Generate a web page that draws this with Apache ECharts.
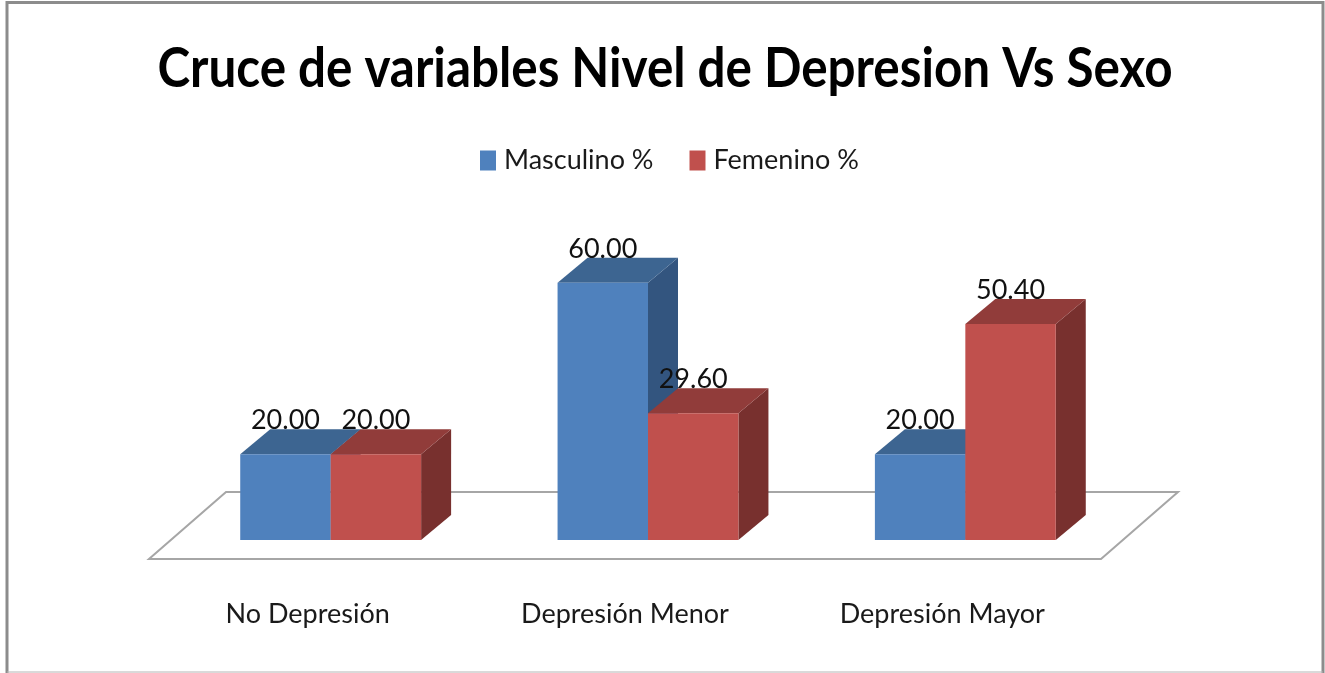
<!DOCTYPE html>
<html>
<head>
<meta charset="utf-8">
<title>Cruce de variables</title>
<script src="https://cdn.jsdelivr.net/npm/echarts@6/dist/echarts.min.js"></script>
<style>
html, body { margin: 0; padding: 0; background: #fff; }
#main { width: 1325px; height: 673px; }
</style>
</head>
<body>
<div id="main"></div>
<script>
var titulo = 'Cruce de variables Nivel de Depresion Vs Sexo';
var categorias = ['No Depresión', 'Depresión Menor', 'Depresión Mayor'];
var masculino = [20, 60, 20];
var femenino = [20, 29.6, 50.4];

var FUENTE = 'Lato';
var PROF = [30, -25];     // depth of each 3d bar
var PISO = [77, -67];     // depth of the floor
var DESP = [23, -19];     // bars stand this far back on the floor
var ANCHO = 0.285;        // bar width, share of the category band

function barra3d(lado, frente, arriba, costado) {
    return function (params, api) {
        var valor = api.value(1);
        var base = api.coord([api.value(0), 0]);
        var tope = api.coord([api.value(0), valor]);
        var w = api.size([1, 0])[0] * ANCHO;
        var x0 = base[0] + DESP[0] + (lado < 0 ? -w : 0);
        var x1 = x0 + w;
        var y0 = base[1] + DESP[1];
        var y1 = tope[1] + DESP[1];
        var dx = PROF[0], dy = PROF[1];
        return {
            type: 'group',
            children: [
                { type: 'polygon', shape: { points: [[x1, y0], [x1 + dx, y0 + dy], [x1 + dx, y1 + dy], [x1, y1]] }, style: { fill: costado } },
                { type: 'polygon', shape: { points: [[x0, y1], [x1, y1], [x1 + dx, y1 + dy], [x0 + dx, y1 + dy]] }, style: { fill: arriba } },
                { type: 'rect', shape: { x: x0, y: y1, width: w, height: y0 - y1 }, style: { fill: frente } },
                {
                    type: 'text',
                    z2: 50,
                    x: (x0 + x1) / 2,
                    y: y1 - 34,
                    style: {
                        text: valor.toFixed(2),
                        fill: '#111',
                        font: '27px ' + FUENTE,
                        align: 'center',
                        verticalAlign: 'middle'
                    }
                }
            ]
        };
    };
}

var myChart = echarts.init(document.getElementById('main'));

var option = {
    animation: false,
    backgroundColor: '#fff',
    legend: {
        data: ['Masculino %', 'Femenino %'],
        left: 475,
        top: 142,
        icon: 'rect',
        itemWidth: 16,
        itemHeight: 20,
        itemGap: 36,
        selectedMode: false,
        textStyle: { fontFamily: FUENTE, fontSize: 27, color: '#1a1a1a', padding: [0, 0, 0, 3] }
    },
    graphic: [
        { type: 'polyline', silent: true, shape: { points: [[7, 673], [7, 2.5], [1323, 2.5], [1323, 673]] }, style: { fill: null, stroke: '#8c8c8c', lineWidth: 3 } },
        { type: 'line', silent: true, shape: { x1: 7, y1: 672, x2: 1323, y2: 672 }, style: { stroke: '#b4b4b4', lineWidth: 1 } },
        {
            // the original title is a condensed face, so squeeze it sideways
            type: 'text',
            silent: true,
            x: 665,
            y: 69,
            scaleX: 0.898,
            style: {
                text: titulo,
                font: 'bold 55px ' + FUENTE,
                fill: '#000',
                align: 'center',
                verticalAlign: 'middle'
            }
        }
    ],
    grid: { left: 149, right: 224, top: 259, bottom: 114 },
    xAxis: {
        type: 'category',
        data: categorias,
        axisLine: { show: false },
        axisTick: { show: false },
        axisLabel: { margin: 42, fontFamily: FUENTE, fontSize: 27, color: '#1a1a1a' }
    },
    yAxis: { type: 'value', min: 0, max: 70, show: false },
    series: [
        {
            name: 'Piso',
            type: 'custom',
            silent: true,
            data: [[0, 0]],
            renderItem: function (params, api) {
                var r = params.coordSys;
                var yb = api.coord([0, 0])[1];
                return {
                    type: 'polygon',
                    shape: { points: [[r.x, yb], [r.x + r.width, yb], [r.x + r.width + PISO[0], yb + PISO[1]], [r.x + PISO[0], yb + PISO[1]]] },
                    style: { fill: '#fff', stroke: '#a6a6a6', lineWidth: 2 }
                };
            }
        },
        {
            name: 'Masculino %',
            type: 'custom',
            itemStyle: { color: '#4f81bd' },
            encode: { x: 0, y: 1 },
            data: masculino.map(function (v, i) { return [i, v]; }),
            renderItem: barra3d(-1, '#4f81bd', '#3d6591', '#33557f')
        },
        {
            name: 'Femenino %',
            type: 'custom',
            itemStyle: { color: '#c0504d' },
            encode: { x: 0, y: 1 },
            data: femenino.map(function (v, i) { return [i, v]; }),
            renderItem: barra3d(1, '#c0504d', '#913c3a', '#78302e')
        }
    ]
};

myChart.setOption(option);
</script>
</body>
</html>
